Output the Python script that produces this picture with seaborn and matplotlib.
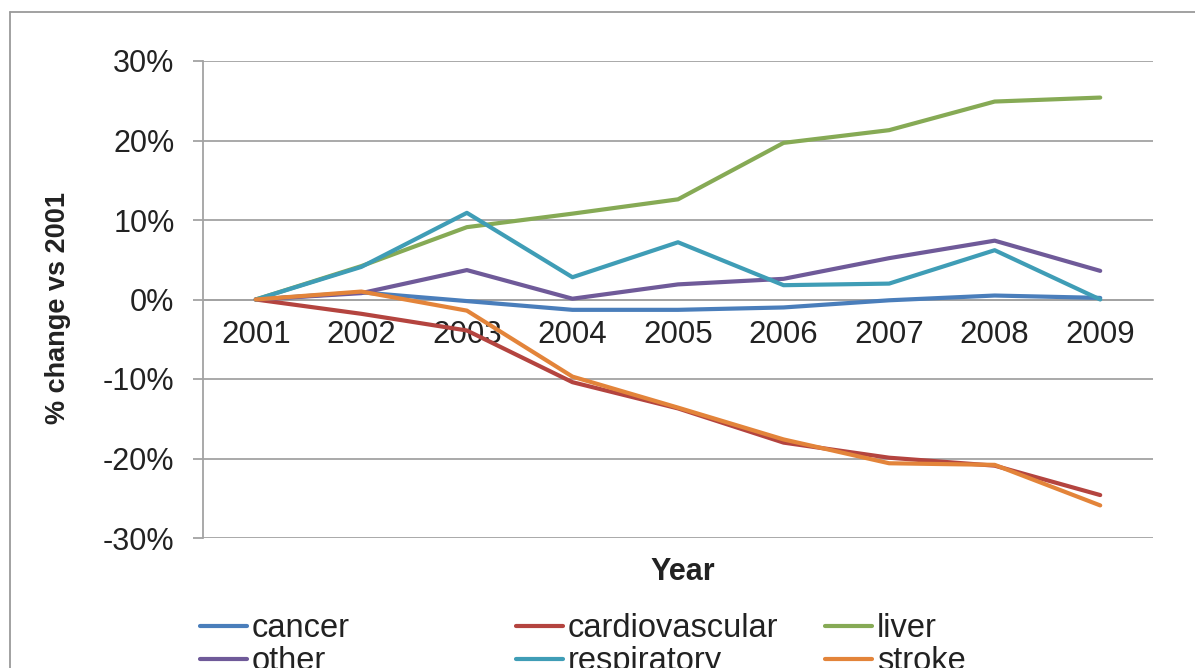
import matplotlib
matplotlib.use("Agg")
import matplotlib.pyplot as plt
from matplotlib.lines import Line2D
import seaborn as sns
import pandas as pd

# Percentage change in deaths relative to 2001, by cause
years = ["2001", "2002", "2003", "2004", "2005", "2006", "2007", "2008", "2009"]
cancer = [0.0, 0.9, -0.2, -1.3, -1.3, -1.0, -0.1, 0.5, 0.2]
cardiovascular = [0.0, -1.8, -3.9, -10.4, -13.7, -18.0, -19.9, -20.9, -24.6]
liver = [0.0, 4.2, 9.1, 10.8, 12.6, 19.7, 21.3, 24.9, 25.4]
other = [0.0, 0.8, 3.7, 0.1, 1.9, 2.6, 5.2, 7.4, 3.6]
respiratory = [0.0, 4.1, 10.9, 2.8, 7.2, 1.8, 2.0, 6.2, 0.0]
stroke = [0.0, 1.0, -1.4, -9.7, -13.6, -17.6, -20.6, -20.8, -25.9]

causes = ["cancer", "cardiovascular", "liver", "other", "respiratory", "stroke"]
series = [cancer, cardiovascular, liver, other, respiratory, stroke]
colors = ["#4A7EBB", "#B4443F", "#86AA55", "#6F5A99", "#3F9DB6", "#E3843A"]
y_ticks = [-30, -20, -10, 0, 10, 20, 30]

rows = []
for cause, vals in zip(causes, series):
    for i, v in enumerate(vals):
        rows.append({"pos": i, "year": years[i], "cause": cause, "value": v})
df = pd.DataFrame(rows)

sns.set_theme(style="white")
plt.rcParams["font.family"] = ["Liberation Sans", "DejaVu Sans"]

W, H = 1195, 668
fig = plt.figure(figsize=(W / 100, H / 100), dpi=100)
ax = fig.add_axes([203 / W, 1 - 538 / H, 950 / W, 477 / H])

grid_c = "#A3A3A3"
text_c = "#222222"

sns.lineplot(data=df, x="pos", y="value", hue="cause", hue_order=causes,
             palette=dict(zip(causes, colors)), linewidth=3.0, legend=False,
             sort=False, ax=ax, zorder=3)
for ln in ax.lines:
    ln.set_solid_joinstyle("round")
    ln.set_solid_capstyle("round")

ax.set_xlim(-0.5, len(years) - 0.5)
ax.set_ylim(-30, 30)

# horizontal gridlines
ax.set_yticks(y_ticks)
ax.set_yticklabels([f"{v}%" for v in y_ticks])
ax.yaxis.grid(True, color=grid_c, linewidth=1.3)
ax.xaxis.grid(False)
ax.set_axisbelow(True)

for s in ["top", "right"]:
    ax.spines[s].set_visible(False)
ax.spines["left"].set_color(grid_c)
ax.spines["left"].set_linewidth(1.3)
ax.spines["bottom"].set_position(("data", 0))
ax.spines["bottom"].set_color(grid_c)
ax.spines["bottom"].set_linewidth(1.3)
ax.spines["bottom"].set_zorder(2)

# category axis crosses at zero: labels centred, ticks at category edges
ax.set_xticks(range(len(years)))
ax.set_xticklabels(years)
ax.set_xticks([i - 0.5 for i in range(len(years) + 1)], minor=True)
ax.tick_params(axis="x", which="major", length=0, pad=15, labelsize=22.5,
               labelcolor=text_c)
ax.tick_params(axis="x", which="minor", length=3.8, width=1.3, color=grid_c,
               direction="out")
ax.tick_params(axis="y", which="major", length=7, width=1.3, color=grid_c,
               direction="out", pad=13.5, labelsize=22, labelcolor=text_c,
               left=True)

ax.set_xlabel("Year", fontsize=22, fontweight="bold", color=text_c)
ax.xaxis.set_label_coords((683 - 203) / 950, (668 - 572 - 130) / 477)
ax.xaxis.label.set_va("center")
ax.set_ylabel("% change vs 2001", fontsize=19.5, fontweight="bold", color=text_c)
ax.yaxis.set_label_coords((58 - 203) / 950, (668 - 308 - 130) / 477)
ax.yaxis.label.set_va("center")

# legend in three equal-width columns below the chart
handles = [Line2D([0], [0], color=c, linewidth=3.0, solid_capstyle="round")
           for c in colors]
col_x = [200, 516, 825]
for k, x0 in enumerate(col_x):
    idx = [k, k + 3]
    leg = fig.legend([handles[i] for i in idx], [causes[i] for i in idx],
                     loc="upper left",
                     bbox_to_anchor=(x0 / W, 1 - 613 / H),
                     bbox_transform=fig.transFigure,
                     frameon=False, fontsize=23.5, handlelength=1.45,
                     handletextpad=0.13, labelspacing=0.06, borderpad=0,
                     borderaxespad=0, labelcolor=text_c)

# chart frame
frame_c = "#9A9A9A"
fig.add_artist(Line2D([10 / W, 10 / W], [0, 1 - 12 / H], transform=fig.transFigure,
                      color=frame_c, linewidth=1.3))
fig.add_artist(Line2D([10 / W, 1], [1 - 12 / H, 1 - 12 / H], transform=fig.transFigure,
                      color=frame_c, linewidth=1.3))

fig.savefig("out.png", dpi=100, facecolor="white")
